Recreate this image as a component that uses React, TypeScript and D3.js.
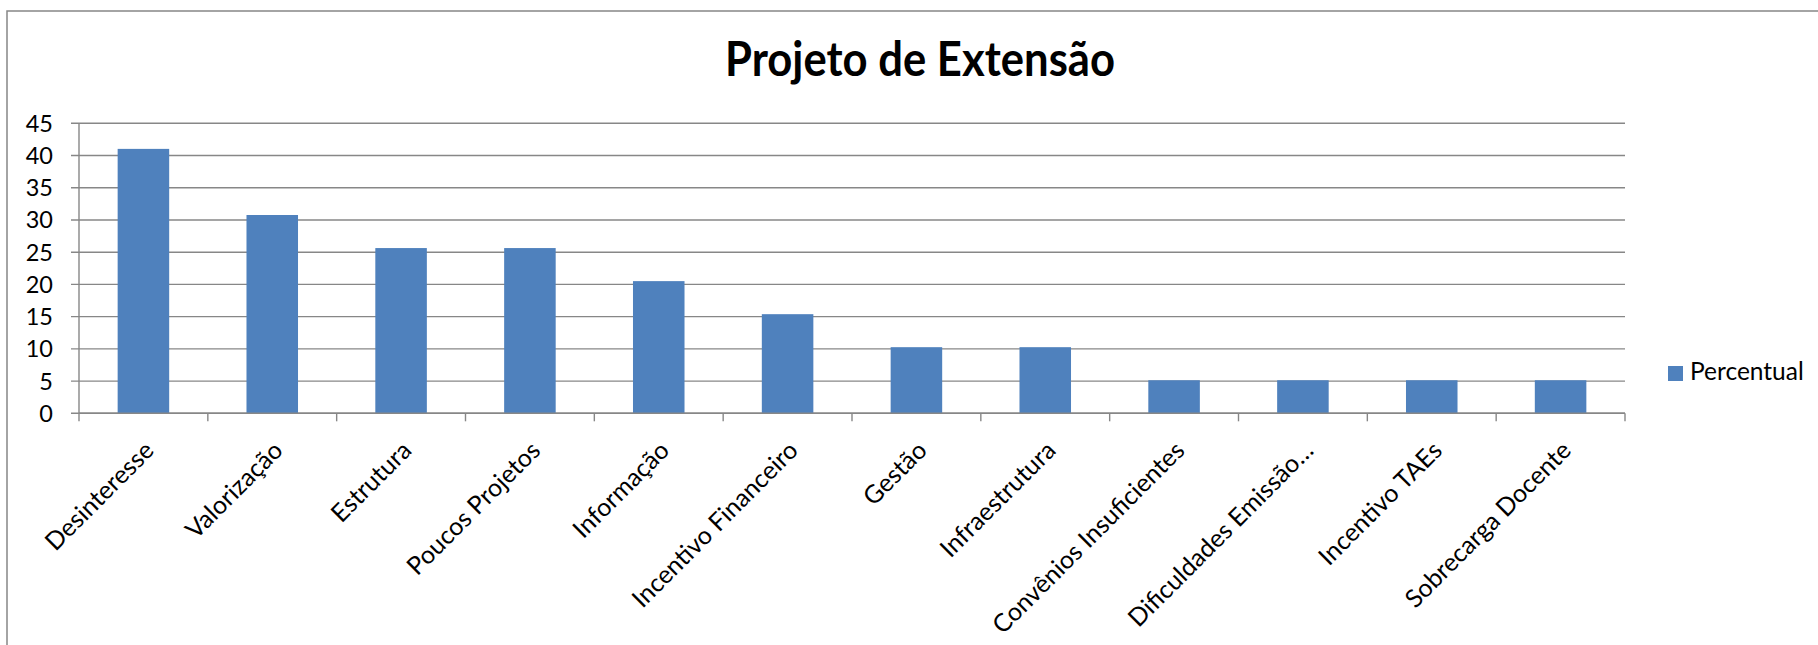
import React from "react";
import * as d3 from "d3";

const categories = [
  "Desinteresse",
  "Valorização",
  "Estrutura",
  "Poucos Projetos",
  "Informação",
  "Incentivo Financeiro",
  "Gestão",
  "Infraestrutura",
  "Convênios Insuficientes",
  "Dificuldades Emissão…",
  "Incentivo TAEs",
  "Sobrecarga Docente",
];
const percentual = [41.03, 30.77, 25.64, 25.64, 20.51, 15.38, 10.26, 10.26, 5.13, 5.13, 5.13, 5.13];
const yTicks = [0, 5, 10, 15, 20, 25, 30, 35, 40, 45];
const title = "Projeto de Extensão";
const seriesName = "Percentual";

const W = 1818;
const H = 645;
const FONT = "Lato, 'Open Sans', sans-serif";
const GRID = "#878787";
const BAR = "#4F81BD";

export default function App() {
  const left = 79;
  const right = 1625;
  const top = 123.3;
  const bottom = 413.3;

  const x = d3
    .scaleBand<string>()
    .domain(categories)
    .range([left, right])
    .paddingInner(0.6)
    .paddingOuter(0.3);
  const y = d3.scaleLinear().domain([0, 45]).range([bottom, top]);
  const step = x.step();

  return (
    <svg
      width={W}
      height={H}
      style={{ position: "absolute", left: 0, top: 0, background: "#fff" }}
      fontFamily={FONT}
    >
      <rect x={0} y={0} width={W} height={H} fill="#fff" />
      {/* outer frame */}
      <rect x={7} y={11} width={3000} height={3000} fill="none" stroke={GRID} strokeWidth={1.5} />

      <text
        x={920}
        y={76}
        textAnchor="middle"
        fontSize={48}
        fontWeight={700}
        fill="#000"
        textLength={390}
        lengthAdjust="spacingAndGlyphs"
      >
        {title}
      </text>

      {/* gridlines + y ticks */}
      {yTicks.map((t) => (
        <g key={t}>
          <line x1={left - 8} x2={right} y1={y(t)} y2={y(t)} stroke={GRID} strokeWidth={1.4} />
          <text
            x={53}
            y={y(t)}
            dy="0.36em"
            textAnchor="end"
            fontSize={23.5}
            fill="#000"
          >
            {t}
          </text>
        </g>
      ))}
      {/* y axis */}
      <line x1={left} x2={left} y1={top} y2={bottom} stroke={GRID} strokeWidth={1.4} />

      {/* bars */}
      {categories.map((c, i) => (
        <rect
          key={c}
          x={x(c)!}
          y={y(percentual[i])}
          width={x.bandwidth()}
          height={y(0) - y(percentual[i])}
          fill={BAR}
        />
      ))}

      {/* x axis */}
      <line x1={left} x2={right} y1={bottom} y2={bottom} stroke={GRID} strokeWidth={1.4} />
      {d3.range(categories.length + 1).map((i) => (
        <line
          key={i}
          x1={left + i * step}
          x2={left + i * step}
          y1={bottom}
          y2={bottom + 8}
          stroke={GRID}
          strokeWidth={1.4}
        />
      ))}
      {categories.map((c) => {
        const cx = x(c)! + x.bandwidth() / 2;
        const ax = cx + 12;
        const ay = 452;
        return (
          <text
            key={c}
            x={ax}
            y={ay}
            textAnchor="end"
            fontSize={25}
            fill="#000"
            transform={`rotate(-45 ${ax} ${ay})`}
          >
            {c}
          </text>
        );
      })}

      {/* legend */}
      <rect x={1668} y={366} width={15} height={15} fill={BAR} />
      <text x={1690} y={380} fontSize={24.5} fill="#000">
        {seriesName}
      </text>
    </svg>
  );
}
